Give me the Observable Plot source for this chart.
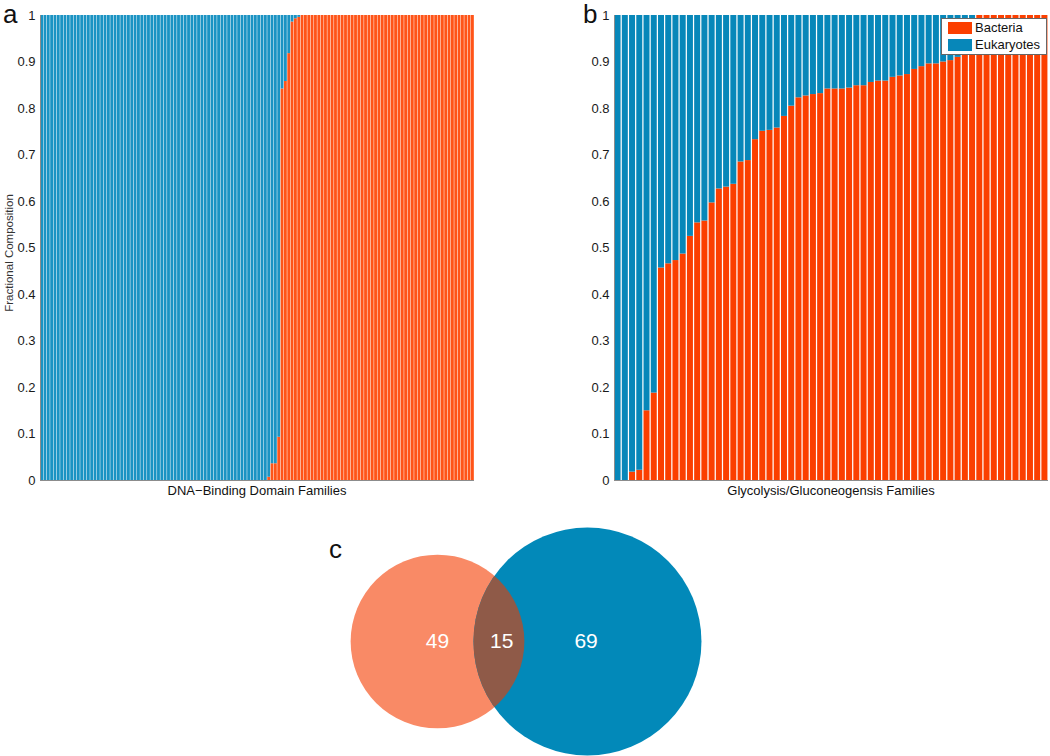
<!DOCTYPE html>
<html>
<head>
<meta charset="utf-8">
<script src="https://cdn.jsdelivr.net/npm/d3@7"></script>
<script src="https://cdn.jsdelivr.net/npm/@observablehq/plot@0.6"></script>
<style>
  body { margin: 0; background: #fff; font-family: "Liberation Sans", Arial, Helvetica, sans-serif; }
  #root { position: relative; width: 1050px; height: 756px; overflow: hidden; background: #fff; }
  .abs { position: absolute; white-space: nowrap; color: #111; }
  .letter { font-size: 26px; line-height: 1; }
  .xlab { font-size: 13px; transform: translateX(-50%); }
  .legend { border: 1px solid #666; background: #fff; font-size: 13px; }
  .sw { position: absolute; width: 24px; height: 12px; }
</style>
</head>
<body>
<div id="root"></div>
<script>
// ---------- data ----------
const groups = ["Bacteria", "Eukaryotes"];
const yTicks = [0, 0.1, 0.2, 0.3, 0.4, 0.5, 0.6, 0.7, 0.8, 0.9, 1];

// Panel a: fraction of Bacteria per DNA-binding domain family (rest = Eukaryotes)
const dnaBacteria = [
  0, 0, 0, 0, 0, 0, 0, 0, 0, 0,
  0, 0, 0, 0, 0, 0, 0, 0, 0, 0,
  0, 0, 0, 0, 0, 0, 0, 0, 0, 0,
  0, 0, 0, 0, 0, 0, 0, 0, 0, 0,
  0, 0, 0, 0, 0, 0, 0, 0, 0, 0,
  0, 0, 0, 0, 0, 0, 0, 0, 0, 0,
  0, 0, 0, 0, 0, 0, 0, 0, 0.007, 0.036,
  0.036, 0.093, 0.842, 0.858, 0.918, 0.986, 0.993, 0.996, 1, 1,
  1, 1, 1, 1, 1, 1, 1, 1, 1, 1,
  1, 1, 1, 1, 1, 1, 1, 1, 1, 1,
  1, 1, 1, 1, 1, 1, 1, 1, 1, 1,
  1, 1, 1, 1, 1, 1, 1, 1, 1, 1,
  1, 1, 1, 1, 1, 1, 1, 1, 1, 1
];

// Panel b: fraction of Bacteria per glycolysis/gluconeogenesis family
const glyBacteria = [
  0, 0, 0.018, 0.022, 0.150, 0.188, 0.457, 0.466, 0.473, 0.487,
  0.525, 0.554, 0.558, 0.597, 0.627, 0.631, 0.637, 0.685, 0.688, 0.733,
  0.751, 0.753, 0.758, 0.783, 0.805, 0.823, 0.827, 0.830, 0.832, 0.842,
  0.842, 0.842, 0.844, 0.849, 0.849, 0.856, 0.859, 0.859, 0.867, 0.870,
  0.873, 0.884, 0.890, 0.896, 0.896, 0.900, 0.903, 0.910, 0.920, 0.940,
  1, 1, 1, 1, 1, 1, 1, 1, 1, 1
];

// Panel c: Venn counts
const vennSets = ["Bacteria", "Eukaryotes"];
const vennOnly = [49, 69];
const vennShared = 15;

// ---------- layout / style ----------
const FONT = '"Liberation Sans", Arial, Helvetica, sans-serif';
const root = document.getElementById("root");

function stackedPanel(values, o) {
  const rows = [];
  values.forEach((b, i) => {
    rows.push({family: i, group: "Bacteria", value: b});
    rows.push({family: i, group: "Eukaryotes", value: 1 - b});
  });
  return Plot.plot({
    width: o.width, height: o.height,
    marginLeft: o.marginLeft, marginRight: o.marginRight,
    marginTop: o.marginTop, marginBottom: o.marginBottom,
    style: {fontFamily: FONT, fontSize: "13px", color: "#1a1a1a", background: "transparent", overflow: "visible"},
    x: {type: "band", domain: values.map((_, i) => i), paddingInner: o.padIn, paddingOuter: o.padOut, round: false, axis: null},
    y: {domain: [0, 1], axis: null},
    color: {domain: groups, range: o.colors},
    marks: [
      Plot.barY(rows, {x: "family", y: "value", fill: "group"}),
      Plot.axisY({ticks: yTicks, tickFormat: d => String(d), tickSize: 0, tickPadding: 5, label: null}),
      Plot.ruleY([0], {stroke: "#8c8c8c"}),
      Plot.frame({anchor: "left", stroke: "#8c8c8c"})
    ]
  });
}

const a = stackedPanel(dnaBacteria, {
  width: 480, height: 505, marginLeft: 40, marginRight: 6, marginTop: 15, marginBottom: 25,
  padIn: 0.15, padOut: 0.05, colors: ["#ff5418", "#1a93c3"]
});
a.style.position = "absolute"; a.style.left = "0px"; a.style.top = "0px";
root.appendChild(a);

const b = stackedPanel(glyBacteria, {
  width: 480, height: 505, marginLeft: 44, marginRight: 2, marginTop: 15, marginBottom: 25,
  padIn: 0.17, padOut: 0.08, colors: ["#fb3f00", "#0787b9"]
});
b.style.position = "absolute"; b.style.left = "570px"; b.style.top = "0px";
root.appendChild(b);

// ---------- Venn ----------
const vennTotals = [vennOnly[0] + vennShared, vennOnly[1] + vennShared];
const centreDistance = 110.5;          // layout, in set-size units
const pxPerUnit = 114 / vennTotals[1];
const leftCentrePx = 437;
const vennCircles = [
  {set: vennSets[0], total: vennTotals[0], cx: 0},
  {set: vennSets[1], total: vennTotals[1], cx: centreDistance}
];
const lensMid = (centreDistance - vennTotals[1] + vennTotals[0]) / 2 + 2;
const vennLabels = [
  {label: String(vennOnly[0]), x: 0},
  {label: String(vennShared), x: lensMid},
  {label: String(vennOnly[1]), x: centreDistance - 1}
];
const venn = Plot.plot({
  width: 1050, height: 282, margin: 0,
  style: {fontFamily: FONT, background: "transparent", overflow: "visible"},
  x: {domain: [-leftCentrePx / pxPerUnit, (1050 - leftCentrePx) / pxPerUnit], axis: null},
  r: {type: "linear", domain: [0, vennTotals[1]], range: [0, 114]},
  marks: [
    Plot.dot([vennCircles[0]], {x: "cx", r: "total", fill: "#f98a66", stroke: "none"}),
    Plot.dot([vennCircles[1]], {x: "cx", r: "total", fill: "#0289b9", stroke: "none"}),
    Plot.dot([vennCircles[0]], {x: "cx", r: "total", fill: "#8f5a48", stroke: "none"}),
    Plot.text(vennLabels, {x: "x", text: "label", fill: "white", fontSize: 21})
  ]
});
venn.style.position = "absolute"; venn.style.left = "0px"; venn.style.top = "500px";
root.appendChild(venn);
// clip the lens circle to the eukaryote circle
{
  const circles = venn.querySelectorAll("circle");
  const blue = circles[1], lens = circles[2];
  const ns = "http://www.w3.org/2000/svg";
  const defs = document.createElementNS(ns, "defs");
  const cp = document.createElementNS(ns, "clipPath");
  cp.setAttribute("id", "lensClip");
  const c = blue.cloneNode();
  c.removeAttribute("fill");
  cp.appendChild(c);
  defs.appendChild(cp);
  venn.insertBefore(defs, venn.firstChild);
  lens.setAttribute("clip-path", "url(#lensClip)");
}

// ---------- HTML text ----------
function addText(html, cls, style) {
  const d = document.createElement("div");
  d.className = "abs " + cls;
  d.innerHTML = html;
  Object.assign(d.style, style);
  root.appendChild(d);
  return d;
}
addText("a", "letter", {left: "3px", top: "1px"});
addText("b", "letter", {left: "583px", top: "1px"});
addText("c", "letter", {left: "329px", top: "536px"});
addText("DNA\u2212Binding Domain Families", "xlab", {left: "257px", top: "483px"});
addText("Glycolysis/Gluconeogensis Families", "xlab", {left: "831px", top: "483px"});
addText("Fractional Composition", "", {left: "9px", top: "253px", fontSize: "11.5px", transform: "translate(-50%,-50%) rotate(-90deg)", color: "#333"});

const leg = addText("", "legend", {left: "941px", top: "18px", width: "104px", height: "35px"});
[["Bacteria", "#fb3f00"], ["Eukaryotes", "#0787b9"]].forEach(([t, c], i) => {
  const s = document.createElement("div");
  s.className = "sw"; s.style.left = "6px"; s.style.top = (3 + i * 17) + "px"; s.style.background = c;
  leg.appendChild(s);
  const l = document.createElement("div");
  l.className = "abs"; l.style.left = "33px"; l.style.top = (1 + i * 17) + "px"; l.textContent = t;
  leg.appendChild(l);
});
</script>
</body>
</html>
